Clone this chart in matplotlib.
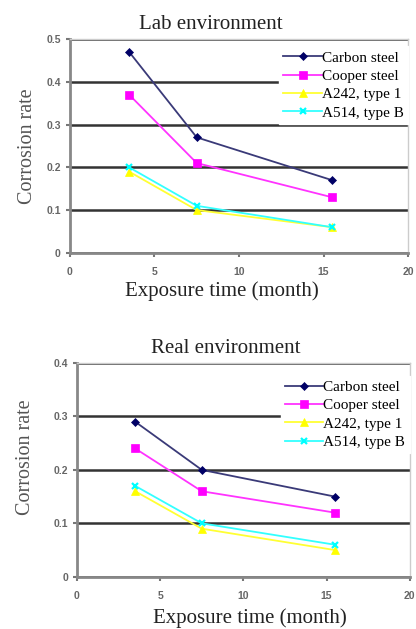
import numpy as np
import matplotlib
matplotlib.use('Agg')
import matplotlib.pyplot as plt

# exposure times (month)
months = [3.5, 7.5, 15.5]

# lab environment
lab_carbon = [0.47, 0.27, 0.17]
lab_cooper = [0.37, 0.21, 0.13]
lab_a242 = [0.19, 0.10, 0.06]
lab_a514 = [0.20, 0.11, 0.06]

# real environment
real_carbon = [0.29, 0.20, 0.15]
real_cooper = [0.24, 0.16, 0.12]
real_a242 = [0.16, 0.09, 0.05]
real_a514 = [0.17, 0.10, 0.06]

labels = ['Carbon steel', 'Cooper steel', 'A242, type 1', 'A514, type B']

serif = 'Liberation Serif'
sans = 'Liberation Sans'


def corrosion_plot(ax, series, title, ymax, title_x, xlab, ylab, leg_y):
    styles = [('#3a3a78', '#000066', 'D', 4.5), ('#ff33ff', '#ff00ff', 's', 6),
              ('#ffff33', '#ffff00', '^', 6), ('#33ffff', '#00ffff', 'x', 5)]
    for vals, lab, (lc, mc, mk, ms) in zip(series, labels, styles):
        ax.plot(months, vals, color=lc, marker=mk, markersize=ms, linewidth=1.3,
                markerfacecolor=mc, markeredgecolor=mc,
                markeredgewidth=1.6 if mk == 'x' else 0.5, label=lab, zorder=3)
    ax.set_xlim(0, 20)
    ax.set_ylim(0, ymax)
    ax.set_xticks([0, 5, 10, 15, 20])
    yt = np.arange(0, ymax + 0.001, 0.1)
    ax.set_yticks(yt)
    ax.set_yticklabels(['0'] + ['%.1f' % v for v in yt[1:]])
    ax.yaxis.grid(True, color='#333333', linewidth=1.8)
    ax.set_axisbelow(True)
    ax.tick_params(labelsize=7.5, labelcolor='#666666', color='#777777', length=3, width=1.5)
    ax.tick_params(axis='x', pad=7)
    for lbl in ax.get_xticklabels() + ax.get_yticklabels():
        lbl.set_fontfamily(sans)
        lbl.set_fontweight('bold')
    for side in ['left', 'bottom']:
        ax.spines[side].set_color('#888888')
        ax.spines[side].set_linewidth(2)
    for side in ['top', 'right']:
        ax.spines[side].set_color('#cccccc')
        ax.spines[side].set_linewidth(1)
    ax.text(title_x, 1.025, title, transform=ax.transAxes, ha='center', va='bottom',
            fontfamily=serif, fontsize=15, color='#222222')
    ax.set_xlabel('Exposure time (month)', fontfamily=serif, fontsize=15, color='#222222')
    ax.xaxis.set_label_coords(*xlab)
    ax.set_ylabel('Corrosion rate', fontfamily=serif, fontsize=14.5, color='#555555')
    ax.yaxis.set_label_coords(*ylab)
    leg = ax.legend(loc='upper right', prop={'family': serif, 'size': 11}, frameon=True,
                    fancybox=False, framealpha=1, edgecolor='white', handlelength=2.5,
                    handletextpad=0.0, labelspacing=0.3, borderaxespad=0.0, borderpad=0.3,
                    bbox_to_anchor=(1.0, leg_y))
    leg.set_zorder(5)


fig = plt.figure(figsize=(4.16, 6.29), dpi=100)
ax1 = fig.add_axes([0.168, 0.598, 0.813, 0.340])
corrosion_plot(ax1, [lab_carbon, lab_cooper, lab_a242, lab_a514],
               'Lab environment', 0.5, 0.417, (0.45, -0.135), (-0.098, 0.5), 0.965)

ax2 = fig.add_axes([0.185, 0.083, 0.800, 0.340])
corrosion_plot(ax2, [real_carbon, real_cooper, real_a242, real_a514],
               'Real environment', 0.4, 0.447, (0.52, -0.145), (-0.126, 0.56), 0.94)

fig.savefig('out.png', dpi=100)
